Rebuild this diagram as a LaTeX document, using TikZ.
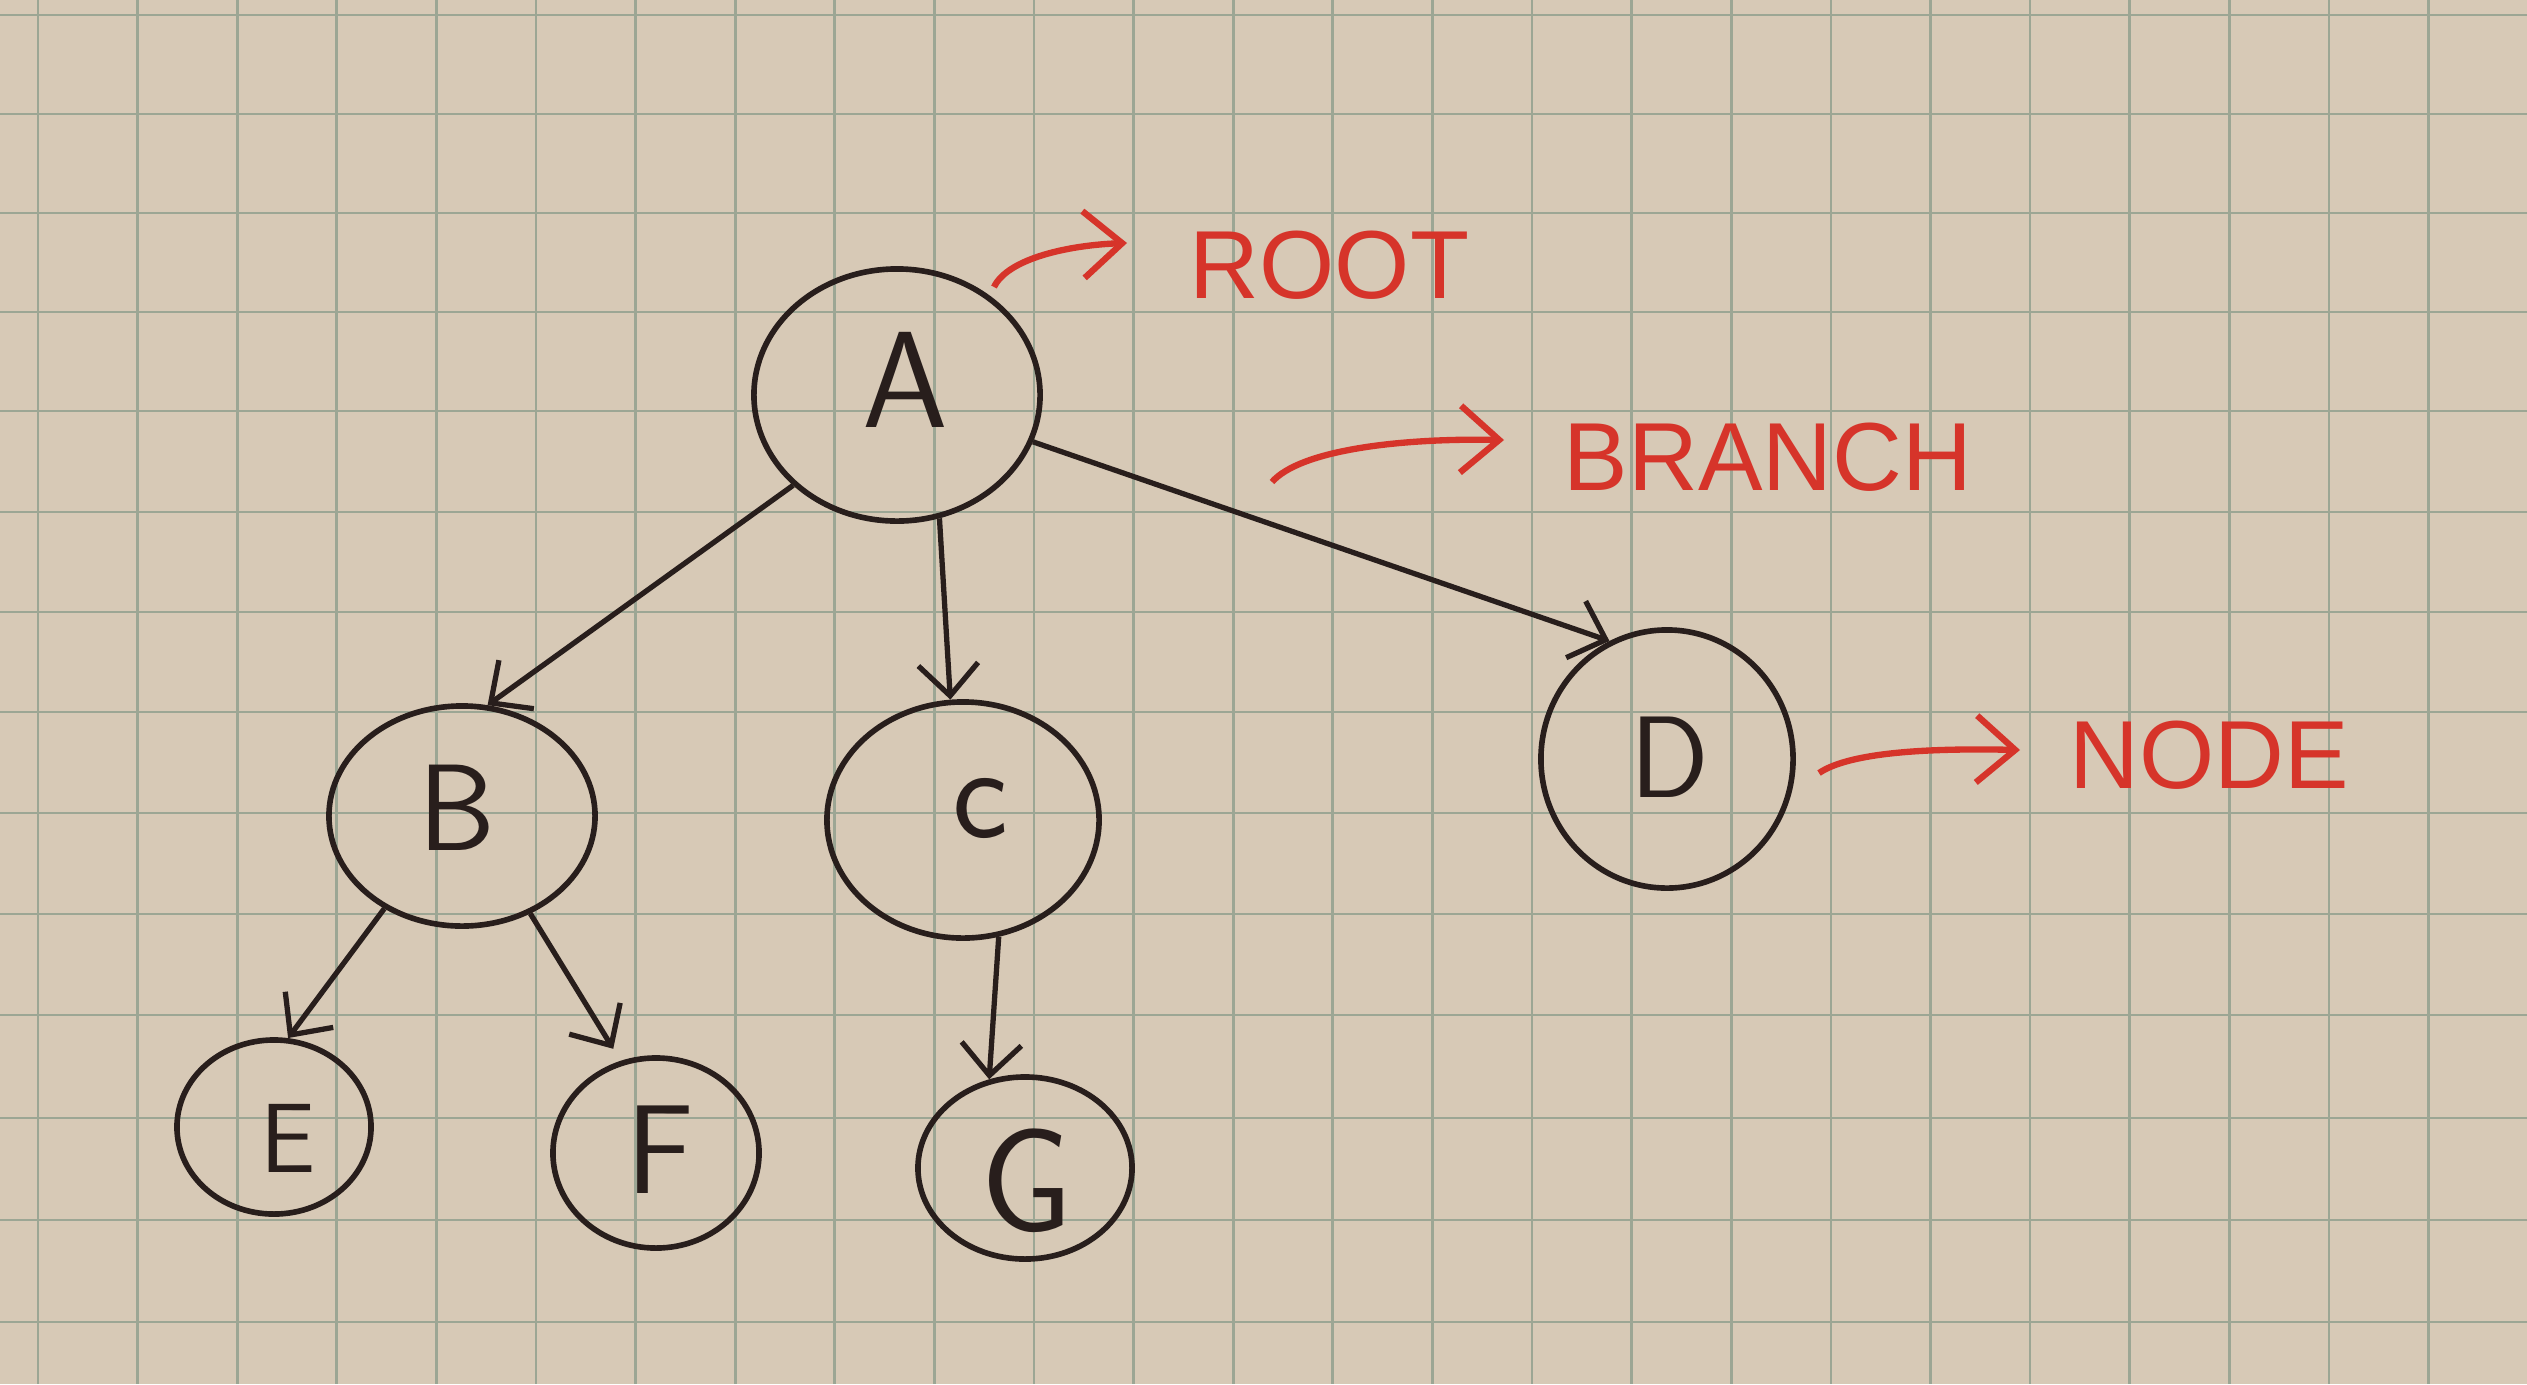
\documentclass[tikz,border=0pt]{standalone}
\usepackage{fontspec}
\setmainfont{Liberation Sans}
\usetikzlibrary{shapes.geometric,arrows.meta}
\definecolor{paper}{RGB}{215,201,182}
\definecolor{gridc}{RGB}{156,166,148}
\definecolor{ink}{RGB}{40,30,28}
\definecolor{redink}{RGB}{214,52,42}
\begin{document}
\begin{tikzpicture}[x=0.01cm,y=-0.01cm,
  treenode/.style={draw=ink, line width=1.6pt, ellipse, inner sep=0pt},
  letter/.style={text=ink, inner sep=0pt, font=\sffamily\fontsize{#1}{#1}\selectfont},
  edge/.style={draw=ink, line width=1.5pt, -{Straight Barb[length=9pt,width=17pt]}},
  tag/.style={text=redink, inner sep=0pt, anchor=west, font=\fontsize{27.5}{30}\selectfont},
  tagarrow/.style={draw=redink, line width=1.8pt, -{Straight Barb[length=11pt,width=19pt]}}]
% paper
\fill[paper] (0,0) rectangle (2527,1384);
\useasboundingbox (0,0) rectangle (2527,1384);
\foreach \k in {0,...,25} {\draw[gridc, line width=0.75pt] ({38+99.6*\k},0) -- ({38+99.6*\k},1384);}
\foreach \y in {15,114,213,312,411,512,612,712,813,914,1015,1118,1220,1322} {\draw[gridc, line width=0.75pt] (0,\y) -- (2527,\y);}
% tree nodes
\node[treenode, minimum width=2.86cm, minimum height=2.52cm] (A) at (897,395) {};
\node[treenode, minimum width=2.66cm, minimum height=2.20cm] (B) at (462,816) {};
\node[treenode, minimum width=2.72cm, minimum height=2.36cm] (C) at (963,820) {};
\node[treenode, minimum width=2.52cm, minimum height=2.58cm] (D) at (1667,759) {};
\node[treenode, minimum width=1.94cm, minimum height=1.74cm] (E) at (274,1127) {};
\node[treenode, minimum width=2.06cm, minimum height=1.90cm] (F) at (656,1153) {};
\node[treenode, minimum width=2.14cm, minimum height=1.82cm] (G) at (1025,1168) {};
% letters
\node[letter=39] (tA) at (905,380) {A};
\node[letter=35] (tB) at (457,808) {B};
\node[letter=38] (tC) at (980,808) {c};
\node[letter=33] (tD) at (1670,757) {D};
\node[letter=28] (tE) at (288,1138) {E};
\node[letter=36] (tF) at (660,1150) {F};
\node[letter=42] (tG) at (1027,1181) {G};
% edges
\draw[edge] (A.221) -- (B.77);
\draw[edge] (A.289) -- (C.96);
\draw[edge] (A.341) -- (D.116);
\draw[edge] (B.230) -- (E.81);
\draw[edge, shorten >=4pt] (B.305) -- (F.111);
\draw[edge] (C.287) -- (G.112);
% red labels
\node[tag] (root) at (1189,265) {ROOT};
\node[tag] (branch) at (1563,457) {BRANCH};
\node[tag] (nodetag) at (2069,755) {NODE};
\coordinate (rootS) at (994,287);
\coordinate (rootT) at (1127,243);
\coordinate (branchS) at (1272,482);
\coordinate (branchT) at (1504,440);
\coordinate (nodeS) at (1819,773);
\coordinate (nodeT) at (2020,750);
\draw[tagarrow] (rootS) .. controls (1008,258) and (1070,245) .. (rootT);
\draw[tagarrow] (branchS) .. controls (1300,450) and (1400,438) .. (branchT);
\draw[tagarrow] (nodeS) .. controls (1850,752) and (1930,748) .. (nodeT);
\end{tikzpicture}
\end{document}
